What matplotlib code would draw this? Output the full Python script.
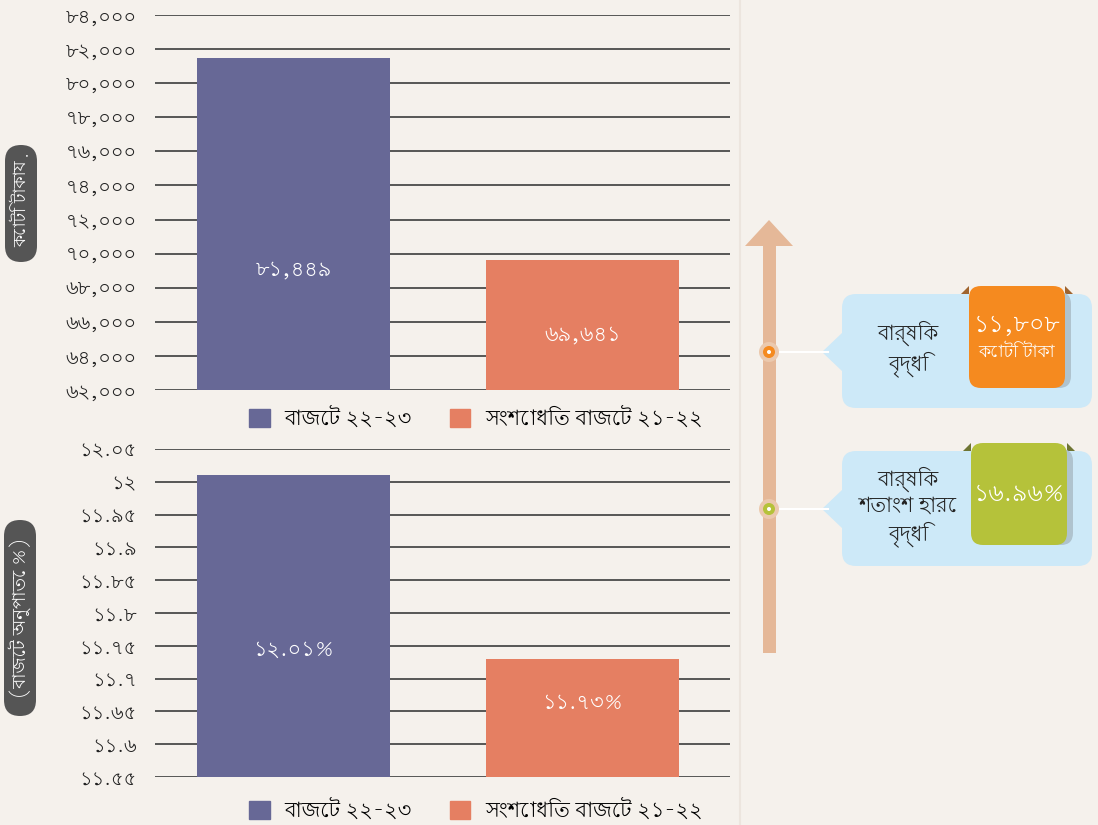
import matplotlib
matplotlib.use('Agg')
import matplotlib.pyplot as plt
from matplotlib import font_manager
from matplotlib.ft2font import FT2Font
from matplotlib.patches import FancyBboxPatch, Polygon, Circle, Patch

# data
categories = ["বাজেট ২২-২৩", "সংশোধিত বাজেট ২১-২২"]
amount_crore = [81449, 69641]
share_pct = [12.01, 11.73]
growth_crore = 11808
growth_pct = 16.96
amount_ticks = list(range(62000, 84001, 2000))
share_ticks = [11.55, 11.6, 11.65, 11.7, 11.75, 11.8, 11.85, 11.9, 11.95, 12.0, 12.05]

colors = ["#676896", "#E57F62"]
bg = "#F5F1EC"

# find a proportional font with Bengali glyphs
cands = []
for f in font_manager.fontManager.ttflist:
    try:
        if 0x09AC in FT2Font(f.fname).get_charmap():
            cands.append(f.name)
    except Exception:
        pass
def rank(n):
    low = n.lower()
    r = 0
    if "mono" in low or "code" in low or "courier" in low:
        r += 10
    if "bengali" in low or "bangla" in low:
        r -= 5
    if "serif" in low and "sans" not in low:
        r += 1
    return r
cands = sorted(set(cands), key=rank)
beng = cands[0] if cands else None
fams = ([beng] if beng else []) + ["DejaVu Sans"]
plt.rcParams['font.family'] = fams

BN = str.maketrans("0123456789", "০১২৩৪৫৬৭৮৯")
def bn(s):
    return str(s).translate(BN)

def fmt_share(v):
    s = ("%.2f" % v).rstrip("0").rstrip(".")
    return bn(s)

W, H = 1098, 825
fig = plt.figure(figsize=(W / 100, H / 100), dpi=100)
fig.patch.set_facecolor(bg)

def px_axes(x0, y0, x1, y1):
    return fig.add_axes([x0 / W, 1 - y1 / H, (x1 - x0) / W, (y1 - y0) / H])

xpos = [0, 1]
bw = 0.668

def style(ax, ticks, labels, ylim):
    ax.set_facecolor("none")
    ax.set_xlim(-0.48, 1.51)
    ax.set_ylim(*ylim)
    ax.set_yticks(ticks)
    ax.set_yticklabels(labels, fontsize=14, color="#222")
    ax.yaxis.grid(True, color="#4a4a4a", lw=1.3)
    ax.set_axisbelow(True)
    ax.set_xticks([])
    ax.tick_params(axis="y", length=0, pad=13)
    for s in ax.spines.values():
        s.set_visible(False)

# top chart
ax1 = px_axes(155, 15, 730, 390)
style(ax1, amount_ticks, [bn(f"{t:,}") for t in amount_ticks], (62000, 84000))
ax1.bar(xpos, [v - 62000 for v in amount_crore], bw, bottom=62000, color=colors, zorder=3)
for x, v, fr in zip(xpos, amount_crore, [0.36, 0.42]):
    ax1.text(x, 62000 + fr * (v - 62000), bn(f"{v:,}"), color="white", ha="center",
             va="center", fontsize=15, zorder=4)

# bottom chart
ax2 = px_axes(155, 449, 730, 777)
style(ax2, share_ticks, [fmt_share(t) for t in share_ticks], (11.55, 12.05))
ax2.bar(xpos, [v - 11.55 for v in share_pct], bw, bottom=11.55, color=colors, zorder=3)
for x, v, fr in zip(xpos, share_pct, [0.42, 0.63]):
    ax2.text(x, 11.55 + fr * (v - 11.55), bn("%.2f" % v) + "%", color="white", ha="center",
             va="center", fontsize=15, zorder=4)

handles = [Patch(color=c) for c in colors]
for yc in (418 / H, 810 / H):
    fig.legend(handles, categories, loc="center", bbox_to_anchor=(476 / W, 1 - yc), ncol=2,
               frameon=False, fontsize=15, handlelength=1.0, handleheight=1.0,
               columnspacing=1.8, handletextpad=0.7)

# overlay in pixel coordinates
ov = fig.add_axes([0, 0, 1, 1], zorder=-1)
ov.set_xlim(0, W)
ov.set_ylim(H, 0)
ov.axis("off")
ov.set_facecolor("none")
ov.axvline(740, color="#ECE5DE", lw=1.5)

top = fig.add_axes([0, 0, 1, 1], zorder=5)
top.set_xlim(0, W)
top.set_ylim(H, 0)
top.axis("off")
top.patch.set_alpha(0)

# y-axis pills
for (cx, y0, y1, txt, fs) in [(21, 145, 262, "কোটি টাকায়", 12.5),
                              (20, 520, 716, "(বাজেট অনুপাতে %)", 13)]:
    top.add_patch(FancyBboxPatch((cx - 16, y0), 32, y1 - y0,
                                 boxstyle="round,pad=0,rounding_size=16",
                                 fc="#555555", ec="none"))
    top.text(cx, (y0 + y1) / 2, txt, rotation=90, color="white", ha="center",
             va="center", fontsize=fs)

# growth arrow
arrow_c = "#E5B898"
top.add_patch(Polygon([(763, 653), (776, 653), (776, 246), (793, 246), (769, 220),
                       (745, 246), (763, 246)], closed=True, fc=arrow_c, ec="none"))

callouts = [
    (352, 294, 408, "বার্ষিক\nবৃদ্ধি", "#F58A1F", "#A0642E", 286, 388, 969,
     [(bn(f"{growth_crore:,}"), 17, -12), ("কোটি টাকা", 12.5, 15)]),
    (509, 451, 566, "বার্ষিক\nশতাংশ হারে\nবৃদ্ধি", "#B5C23A", "#6E7533", 443, 545, 971,
     [(bn("%.2f" % growth_pct) + "%", 17, 0)]),
]
for (dy, by0, by1, lab, rc, fold, ry0, ry1, rx0, lines) in callouts:
    # callout box and pointer
    top.add_patch(FancyBboxPatch((842 + 14, by0 + 14), 250 - 28, by1 - by0 - 28,
                                 boxstyle="round,pad=14", fc="#CDE9F8", ec="none"))
    top.add_patch(Polygon([(843, dy - 20), (822, dy), (843, dy + 20)], fc="#CDE9F8", ec="none"))
    top.plot([769, 828], [dy, dy], color="white", lw=1.5, zorder=3)
    top.add_patch(Circle((769, dy), 10, fc="#EBC9AE", ec="none", zorder=4))
    top.add_patch(Circle((769, dy), 6, fc=rc, ec="none", zorder=5))
    top.add_patch(Circle((769, dy), 2, fc="white", ec="none", zorder=6))
    top.text(908, (by0 + by1) / 2 - 2, lab, ha="center", va="center", fontsize=15,
             color="#222", linespacing=1.25)
    # ribbon
    top.add_patch(Polygon([(rx0 - 8, ry0 + 8), (rx0, ry0), (rx0, ry0 + 8)], fc=fold, ec="none"))
    top.add_patch(Polygon([(rx0 + 96, ry0), (rx0 + 104, ry0 + 8), (rx0 + 96, ry0 + 8)],
                          fc=fold, ec="none"))
    top.add_patch(FancyBboxPatch((rx0 + 6, ry0 + 6), 96, ry1 - ry0 - 6,
                                 boxstyle="round,pad=0,rounding_size=12",
                                 fc="#AFC3CE", ec="none", zorder=2))
    top.add_patch(FancyBboxPatch((rx0, ry0), 96, ry1 - ry0,
                                 boxstyle="round,pad=0,rounding_size=12",
                                 fc=rc, ec="none", zorder=3))
    rcx = rx0 + 48
    rcy = (ry0 + ry1) / 2
    for (t, fs, off) in lines:
        top.text(rcx, rcy + off, t, ha="center", va="center", fontsize=fs, color="white",
                 fontweight="bold" if fs > 15 else "normal", zorder=4)

fig.savefig("out.png", dpi=100, facecolor=fig.get_facecolor())
